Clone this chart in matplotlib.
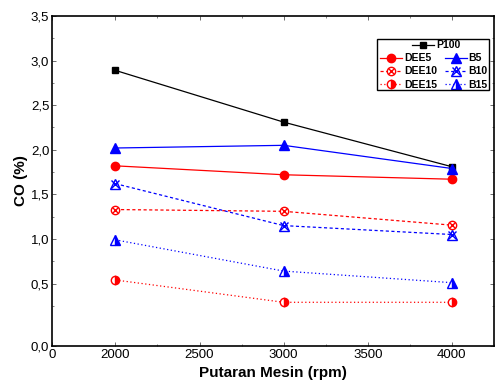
import matplotlib.pyplot as plt
from matplotlib.patches import Rectangle
from matplotlib.lines import Line2D
from matplotlib.legend_handler import HandlerTuple

plt.rcParams['font.family'] = ['Liberation Sans', 'DejaVu Sans']

rpm = [2000, 3000, 4000]
p100 = [2.89, 2.31, 1.81]
dee5 = [1.82, 1.72, 1.67]
dee10 = [1.33, 1.31, 1.155]
dee15 = [0.54, 0.29, 0.29]
b5 = [2.02, 2.05, 1.79]
b10 = [1.62, 1.15, 1.05]
b15 = [0.99, 0.64, 0.51]

xmin, xmax = 1623, 4250
ymin, ymax = -0.2, 3.5

fig = plt.figure(figsize=(4.95, 3.83), dpi=100)
ax = fig.add_axes([52 / 495, 37 / 383, 442 / 495, 330 / 383])

dash = (0, (2.5, 2))
dot = (0, (1, 2))

ax.plot(rpm, p100, color='black', lw=0.9, marker='s', ms=5)
ax.plot(rpm, dee5, color='red', lw=0.9, marker='o', ms=6)
ax.plot(rpm, b5, color='blue', lw=0.9, marker='^', ms=6.5)

# DEE10: open circle with a cross inside
ax.plot(rpm, dee10, color='red', lw=0.9, ls=dash, marker='o', ms=6,
        mfc='white', mec='red', mew=1.0)
ax.plot(rpm, dee10, ls='none', marker='x', ms=4, mec='red', mew=1.0)
# B10: open triangle with a cross
ax.plot(rpm, b10, color='blue', lw=0.9, ls=dash, marker='^', ms=6.5,
        mfc='white', mec='blue', mew=1.0)
ax.plot(rpm, b10, ls='none', marker='x', ms=6, mec='blue', mew=1.0)
# half filled markers
ax.plot(rpm, dee15, color='red', lw=0.9, ls=dot, marker='o', ms=6,
        fillstyle='right', mfc='red', mfcalt='white', mec='red', mew=1.0)
ax.plot(rpm, b15, color='blue', lw=0.9, ls=dot, marker='^', ms=6.5,
        fillstyle='right', mfc='blue', mfcalt='white', mec='blue', mew=1.0)

ax.set_xlim(xmin, xmax)
ax.set_ylim(ymin, ymax)

xt = [xmin, 2000, 2500, 3000, 3500, 4000]
xl = ['0', '2000', '2500', '3000', '3500', '4000']
ax.set_xticks(xt)
ax.set_xticklabels(xl)
yt = [ymin, 0.5, 1.0, 1.5, 2.0, 2.5, 3.0, 3.5]
yl = ['0,0', '0,5', '1,0', '1,5', '2,0', '2,5', '3,0', '3,5']
ax.set_yticks(yt)
ax.set_yticklabels(yl)
ax.set_xticks([2250, 2750, 3250, 3750, 4250], minor=True)
ax.set_yticks([0.25, 0.75, 1.25, 1.75, 2.25, 2.75, 3.25], minor=True)
ax.tick_params(which='both', direction='in', top=True, right=True, labelsize=9.5,
               color='#555555', pad=2)
ax.tick_params(which='major', length=3, width=0.6)
ax.tick_params(which='minor', length=1.5, width=0.5)
for s in ax.spines.values():
    s.set_linewidth(1.2)

ax.set_xlabel('Putaran Mesin (rpm)', fontsize=11, fontweight='bold', labelpad=4)
ax.set_ylabel('CO (%)', fontsize=11, fontweight='bold', labelpad=2)

# legend
h_p = Line2D([], [], color='black', lw=0.9, marker='s', ms=5)
h_d5 = Line2D([], [], color='red', lw=0.9, marker='o', ms=6)
h_b5 = Line2D([], [], color='blue', lw=0.9, marker='^', ms=6.5)
h_d10 = (Line2D([], [], color='red', lw=0.9, ls=dash, marker='o', ms=6,
                mfc='white', mec='red'),
         Line2D([], [], ls='none', marker='x', ms=4, mec='red'))
h_b10 = (Line2D([], [], color='blue', lw=0.9, ls=dash, marker='^', ms=6.5,
                mfc='white', mec='blue'),
         Line2D([], [], ls='none', marker='x', ms=6, mec='blue'))
h_d15 = Line2D([], [], color='red', lw=0.9, ls=dot, marker='o', ms=6,
               fillstyle='right', mfc='red', mfcalt='white', mec='red')
h_b15 = Line2D([], [], color='blue', lw=0.9, ls=dot, marker='^', ms=6.5,
               fillstyle='right', mfc='blue', mfcalt='white', mec='blue')

leg_font = {'weight': 'bold', 'size': 7.5}
leg1 = ax.legend([h_p], ['P100'], loc='center left', frameon=False, prop=leg_font,
                 handlelength=2.1, handletextpad=0.2, borderaxespad=0, borderpad=0)
leg1.set_bbox_to_anchor((412 / 495, 1 - 45.5 / 383), transform=fig.transFigure)
ax.add_artist(leg1)
leg2 = ax.legend([h_d5, h_d10, h_d15, h_b5, h_b10, h_b15],
                 ['DEE5', 'DEE10', 'DEE15', 'B5', 'B10', 'B15'],
                 ncol=2, loc='center left', frameon=False, prop=leg_font,
                 handlelength=2.1, handletextpad=0.2, columnspacing=0.75,
                 labelspacing=0.3, borderaxespad=0, borderpad=0,
                 handler_map={tuple: HandlerTuple(ndivide=1)})
leg2.set_bbox_to_anchor((380 / 495, 1 - 71.5 / 383), transform=fig.transFigure)

fig.patches.append(Rectangle((377 / 495, 1 - 90 / 383), 112 / 495, 51 / 383,
                             transform=fig.transFigure, fill=False,
                             edgecolor='black', lw=1.0))

fig.savefig('out.png', dpi=100)
